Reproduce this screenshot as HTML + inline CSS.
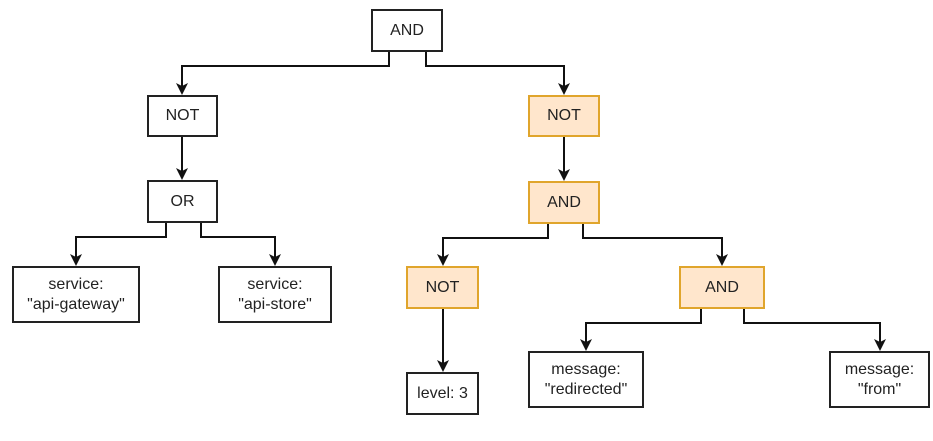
<!DOCTYPE html>
<html><head><style>
body{margin:0;background:#fff;}
.b{position:absolute;box-sizing:border-box;border:2px solid #222;background:#fff;display:flex;align-items:center;justify-content:center;text-align:center;font:16px "Liberation Sans",sans-serif;color:#222;line-height:20px;}
.o{background:#ffe6cc;border-color:#e0a52c;}
</style></head><body>
<div style="position:relative;width:933px;height:441px;">
<svg width="933" height="441" style="position:absolute;left:0;top:0" fill="none" stroke="#111" stroke-width="2">
<g>
<path d="M389 52V66H182V90"/><path d="M426 52V66H564V90"/>
<path d="M182 137V175"/>
<path d="M166 223V237H76V261"/><path d="M201 223V237H275V261"/>
<path d="M564 137V176"/>
<path d="M548 224V238H443V261"/><path d="M583 224V238H722V261"/>
<path d="M443 309V367"/>
<path d="M701 309V323H586V346"/><path d="M744 309V323H880V346"/>
</g>
<g fill="#111" stroke="none">
<path d="M176 83L182 95L188 83L182 86Z"/><path d="M558 83L564 95L570 83L564 86Z"/>
<path d="M176 168L182 180L188 168L182 171Z"/>
<path d="M70 254L76 266L82 254L76 257Z"/><path d="M269 254L275 266L281 254L275 257Z"/>
<path d="M558 169L564 181L570 169L564 172Z"/>
<path d="M437 254L443 266L449 254L443 257Z"/><path d="M716 254L722 266L728 254L722 257Z"/>
<path d="M437 360L443 372L449 360L443 363Z"/>
<path d="M580 339L586 351L592 339L586 342Z"/><path d="M874 339L880 351L886 339L880 342Z"/>
</g>
</svg>
<div class="b" style="left:371px;top:9px;width:72px;height:43px">AND</div>
<div class="b" style="left:147px;top:95px;width:71px;height:42px">NOT</div>
<div class="b" style="left:147px;top:180px;width:71px;height:43px">OR</div>
<div class="b" style="left:12px;top:266px;width:128px;height:57px">service:<br>"api-gateway"</div>
<div class="b" style="left:218px;top:266px;width:114px;height:57px">service:<br>"api-store"</div>
<div class="b o" style="left:528px;top:95px;width:72px;height:42px">NOT</div>
<div class="b o" style="left:528px;top:181px;width:72px;height:43px">AND</div>
<div class="b o" style="left:406px;top:266px;width:73px;height:43px">NOT</div>
<div class="b" style="left:406px;top:372px;width:73px;height:43px">level: 3</div>
<div class="b o" style="left:679px;top:266px;width:86px;height:43px">AND</div>
<div class="b" style="left:528px;top:351px;width:116px;height:57px">message:<br>"redirected"</div>
<div class="b" style="left:829px;top:351px;width:101px;height:57px">message:<br>"from"</div>
</div>
</body></html>
